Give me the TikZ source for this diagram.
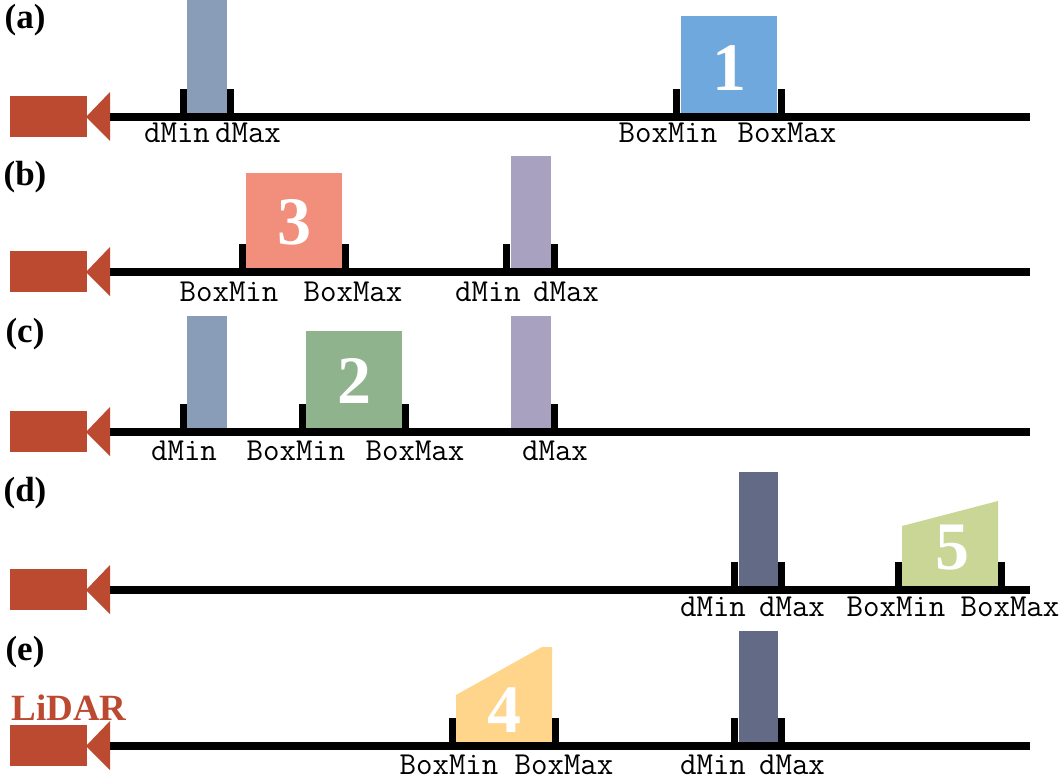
\documentclass[tikz,border=0pt]{standalone}
\usepackage{fontspec}
\setmainfont{Liberation Serif}
\begin{document}
\begin{tikzpicture}[x=1pt,y=-1pt,
  lbl/.style={font=\fontsize{32}{32}\ttfamily, anchor=center, inner sep=0},
  panel/.style={font=\fontsize{35}{35}\bfseries, anchor=center, inner sep=0},
  num/.style={font=\fontsize{68}{68}\bfseries, text=white, anchor=center, inner sep=0},
  tick/.style={fill=black}]
\definecolor{lidar}{HTML}{BC4A31}
\definecolor{cblue}{HTML}{8A9DB8}
\definecolor{cpurp}{HTML}{A8A2C0}
\definecolor{cdark}{HTML}{636A85}
\definecolor{box1}{HTML}{6FA8DC}
\definecolor{box3}{HTML}{F28E7C}
\definecolor{box2}{HTML}{8FB38C}
\definecolor{box5}{HTML}{C9D696}
\definecolor{box4}{HTML}{FED58B}
\useasboundingbox (0,0) rectangle (1062,776);
\newcommand{\tk}[2]{\fill[tick] (#1,#2-24) rectangle (#1+7,#2);}
\newcommand{\lidarrow}[1]{%
  \fill[lidar] (10,#1-21) rectangle (87,#1+20);
  \fill[lidar] (86,#1) -- (110,#1-25) -- (110,#1+24) -- cycle;
  \fill[black] (110,#1-4) rectangle (1030,#1+4);}
% (a)
\node[panel] (pa) at (25,20) {(a)};
\fill[cblue] (187,0) rectangle (227,113);
\fill[box1] (681,16) rectangle (777,113);
\node[num] (n1) at (729,68) {1};
\lidarrow{117}
\tk{180}{113}\tk{227}{113}\tk{673}{113}\tk{778}{113}
\node[lbl] (a1) at (177,133) {dMin};
\node[lbl] (a2) at (248,133) {dMax};
\node[lbl] (a3) at (668,133) {BoxMin};
\node[lbl] (a4) at (787,133) {BoxMax};
% (b)
\node[panel] (pb) at (25,177) {(b)};
\fill[box3] (246,173) rectangle (342,268);
\node[num] (n3) at (294,222) {3};
\fill[cpurp] (511,156) rectangle (551,268);
\lidarrow{272}
\tk{239}{268}\tk{342}{268}\tk{503}{268}\tk{551}{268}
\node[lbl] (b1) at (229,292) {BoxMin};
\node[lbl] (b2) at (353,292) {BoxMax};
\node[lbl] (b3) at (488,292) {dMin};
\node[lbl] (b4) at (566,292) {dMax};
% (c)
\node[panel] (pc) at (25,334) {(c)};
\fill[cblue] (187,316) rectangle (227,428);
\fill[box2] (306,331) rectangle (402,428);
\node[num] (n2) at (354,381) {2};
\fill[cpurp] (511,316) rectangle (551,428);
\lidarrow{432}
\tk{180}{428}\tk{299}{428}\tk{402}{428}\tk{551}{428}
\node[lbl] (c1) at (184,451) {dMin};
\node[lbl] (c2) at (296,451) {BoxMin};
\node[lbl] (c3) at (415,451) {BoxMax};
\node[lbl] (c4) at (555,451) {dMax};
% (d)
\node[panel] (pd) at (25,493) {(d)};
\fill[cdark] (739,472) rectangle (778,586);
\fill[box5] (902,526) -- (998,501) -- (998,586) -- (902,586) -- cycle;
\node[num] (n5) at (952,548) {5};
\lidarrow{590}
\tk{731}{586}\tk{778}{586}\tk{895}{586}\tk{998}{586}
\node[lbl] (d1) at (713,607) {dMin};
\node[lbl] (d2) at (792,607) {dMax};
\node[lbl] (d3) at (896,607) {BoxMin};
\node[lbl] (d4) at (1010,607) {BoxMax};
% (e)
\node[panel] (pe) at (25,652) {(e)};
\node[font=\fontsize{37}{37}\bfseries, text=lidar, inner sep=0] (lt) at (69,708) {LiDAR};
\fill[box4] (456,695) -- (542,647) -- (552,647) -- (552,742) -- (456,742) -- cycle;
\node[num] (n4) at (504,710) {4};
\fill[cdark] (739,631) rectangle (778,742);
\lidarrow{746}
\tk{449}{742}\tk{552}{742}\tk{731}{742}\tk{778}{742}
\node[lbl] (e1) at (449,765) {BoxMin};
\node[lbl] (e2) at (564,765) {BoxMax};
\node[lbl] (e3) at (713,765) {dMin};
\node[lbl] (e4) at (792,765) {dMax};
\end{tikzpicture}
\end{document}
